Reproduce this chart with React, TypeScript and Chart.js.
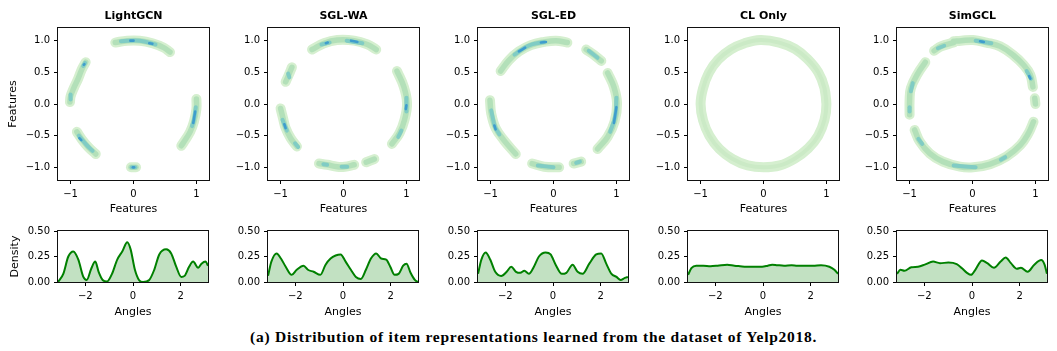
import React, { useEffect, useRef } from "react";
import { Chart, registerables } from "chart.js";

Chart.register(...registerables);

type Pt = [number, number];

// ---------------- labels & ticks ----------------
const modelNames = ["LightGCN", "SGL-WA", "SGL-ED", "CL Only", "SimGCL"];
const featureYTicks = [-1, -0.5, 0, 0.5, 1];
const featureXTicks = [-1, 0, 1];
const densityTicks = [0, 0.25, 0.5];
const angleTicks = [-2, 0, 2];
const captionText = "(a) Distribution of item representations learned from the dataset of Yelp2018.";

// ---------------- 2D feature distributions (ridges of the KDE bands) ----------------
const lightgcnArcs: Pt[][] = [
  [[-0.29, 0.97], [-0.1, 1.0], [0.1, 1.0], [0.3, 0.96], [0.48, 0.89], [0.58, 0.82]],
  [[-0.76, 0.66], [-0.82, 0.55], [-0.88, 0.4], [-0.95, 0.25], [-1.0, 0.12], [-1.01, 0.03]],
  [[-0.9, -0.44], [-0.82, -0.56], [-0.72, -0.68], [-0.6, -0.79]],
  [[-0.04, -1.0], [0.04, -1.0]],
  [[1.0, 0.08], [1.0, -0.08], [0.96, -0.28], [0.9, -0.44], [0.8, -0.6], [0.76, -0.66]],
];
const lightgcnCores: Pt[][] = [
  [[-0.2, 0.99], [0.1, 1.0], [0.35, 0.94]],
  [[-0.8, 0.6], [-0.77, 0.65]],
  [[-1.0, 0.15], [-1.0, 0.07]],
  [[-0.87, -0.5], [-0.75, -0.64], [-0.65, -0.74]],
  [[-0.03, -1.0], [0.03, -1.0]],
  [[0.99, -0.05], [0.96, -0.25], [0.93, -0.35]],
];
const lightgcnPeaks: Pt[][] = [
  [[-0.05, 1.0], [0.0, 1.0]],
  [[0.25, 0.96], [0.3, 0.95]],
  [[-0.79, 0.62], [-0.78, 0.63]],
  [[-0.86, -0.54], [-0.83, -0.57]],
  [[-0.01, -1.0], [0.01, -1.0]],
  [[0.98, -0.12], [0.95, -0.3]],
];

const sglwaArcs: Pt[][] = [
  [[-0.5, 0.86], [-0.31, 0.96], [-0.1, 1.01], [0.17, 1.0], [0.38, 0.94], [0.52, 0.86]],
  [[-0.82, 0.58], [-0.87, 0.46], [-0.92, 0.35]],
  [[-1.0, -0.07], [-0.96, -0.23], [-0.92, -0.38], [-0.84, -0.54], [-0.74, -0.67]],
  [[-0.39, -0.94], [-0.26, -0.96], [-0.1, -0.99], [0.02, -0.99], [0.17, -0.96]],
  [[0.36, -0.92], [0.49, -0.87]],
  [[0.85, 0.52], [0.96, 0.27], [1.01, 0.01], [0.97, -0.25], [0.89, -0.46], [0.77, -0.63]],
];
const sglwaCores: Pt[][] = [
  [[-0.35, 0.94], [-0.22, 0.97]],
  [[0.05, 1.0], [0.3, 0.96]],
  [[-0.88, 0.48], [-0.86, 0.42]],
  [[-0.97, -0.25], [-0.9, -0.42]],
  [[-0.77, -0.62], [-0.72, -0.68]],
  [[-0.32, -0.95], [-0.26, -0.96]],
  [[-0.03, -0.99], [0.06, -0.99]],
  [[1.0, 0.1], [1.0, -0.12]],
  [[0.92, -0.42], [0.87, -0.52]],
];
const sglwaPeaks: Pt[][] = [
  [[-0.28, 0.96], [-0.25, 0.97]],
  [[0.12, 1.0], [0.22, 0.98]],
  [[-0.94, -0.32], [-0.92, -0.38]],
  [[1.0, -0.02], [0.99, -0.08]],
];

const sgledArcs: Pt[][] = [
  [[-0.84, 0.52], [-0.71, 0.69], [-0.55, 0.83], [-0.36, 0.93], [-0.15, 0.98], [0.04, 1.0], [0.22, 0.97]],
  [[0.52, 0.86], [0.65, 0.77], [0.76, 0.68]],
  [[0.86, 0.49], [0.96, 0.27], [1.01, 0.01], [0.97, -0.28], [0.86, -0.52], [0.7, -0.71]],
  [[-1.01, 0.06], [-0.99, -0.15], [-0.92, -0.38], [-0.79, -0.57], [-0.6, -0.79]],
  [[-0.34, -0.94], [-0.15, -0.99], [0.09, -1.0]],
  [[0.32, -0.94], [0.44, -0.91]],
];
const sgledCores: Pt[][] = [
  [[-0.62, 0.78], [-0.4, 0.92], [-0.15, 0.98]],
  [[0.56, 0.84], [0.7, 0.73]],
  [[1.0, 0.1], [0.98, -0.2], [0.9, -0.44]],
  [[-0.99, -0.1], [-0.93, -0.36], [-0.86, -0.48]],
  [[-0.25, -0.97], [0.0, -1.0]],
  [[0.36, -0.93], [0.42, -0.91]],
];
const sgledPeaks: Pt[][] = [
  [[-0.55, 0.83], [-0.45, 0.89]],
  [[-0.2, 0.97], [-0.12, 0.98]],
  [[1.0, -0.05], [0.96, -0.3]],
  [[-0.94, -0.34], [-0.92, -0.4]],
];

const clonlyArcs: Pt[][] = [
  [[1.0, 0.0], [0.97, 0.25], [0.87, 0.5], [0.7, 0.71], [0.5, 0.87], [0.25, 0.97], [-0.05, 1.01],
   [-0.3, 0.96], [-0.52, 0.86], [-0.72, 0.7], [-0.87, 0.49], [-0.96, 0.25], [-1.0, 0.0],
   [-0.96, -0.26], [-0.86, -0.5], [-0.7, -0.71], [-0.49, -0.87], [-0.25, -0.97], [0.0, -1.0],
   [0.26, -0.97], [0.5, -0.86], [0.71, -0.7], [0.87, -0.5], [0.97, -0.25], [1.0, 0.0], [0.97, 0.25]],
];
const clonlyCores: Pt[][] = [];
const clonlyPeaks: Pt[][] = [];

const simgclArcs: Pt[][] = [
  [[-0.61, 0.84], [-0.5, 0.91], [-0.3, 0.97]],
  [[-0.3, 0.99], [-0.18, 1.0], [0.01, 1.01], [0.22, 0.97], [0.44, 0.91], [0.65, 0.77], [0.81, 0.62], [0.92, 0.46], [0.96, 0.27]],
  [[0.99, 0.09], [1.0, 0.0]],
  [[-0.75, 0.66], [-0.87, 0.48], [-0.98, 0.25], [-1.0, 0.06], [-1.0, -0.17]],
  [[-0.92, -0.41], [-0.84, -0.59], [-0.68, -0.78], [-0.47, -0.91], [-0.2, -0.99], [0.01, -1.0],
   [0.28, -0.95], [0.54, -0.83], [0.76, -0.65], [0.89, -0.46], [0.97, -0.28]],
];
const simgclCores: Pt[][] = [
  [[-0.55, 0.88], [-0.45, 0.92]],
  [[0.05, 1.0], [0.3, 0.96]],
  [[0.86, 0.52], [0.93, 0.4]],
  [[-0.95, 0.33], [-0.98, 0.2]],
  [[-1.0, -0.05], [-1.0, -0.12]],
  [[-0.86, -0.55], [-0.8, -0.63]],
  [[-0.3, -0.97], [0.05, -1.0]],
  [[0.45, -0.88], [0.52, -0.84]],
];
const simgclPeaks: Pt[][] = [
  [[0.12, 0.99], [0.18, 0.98]],
  [[0.9, 0.44], [0.92, 0.4]],
];

// ---------------- angle densities ----------------
const lightgcnAngles = [-3.14, -2.92, -2.71, -2.5, -2.29, -2.08, -1.94, -1.75, -1.58, -1.44, -1.27, -1.09, -0.88, -0.66, -0.45, -0.24, -0.1, 0.08, 0.25, 0.42, 0.68, 0.89, 1.1, 1.39, 1.6, 1.81, 2.02, 2.16, 2.35, 2.52, 2.73, 2.87, 3.04, 3.14];
const lightgcnDensity = [0.0, 0.08, 0.25, 0.3, 0.22, 0.05, 0.02, 0.13, 0.2, 0.1, 0.02, 0.005, 0.08, 0.22, 0.3, 0.39, 0.32, 0.12, 0.02, 0.0, 0.02, 0.12, 0.27, 0.32, 0.28, 0.15, 0.05, 0.06, 0.15, 0.2, 0.14, 0.18, 0.2, 0.16];

const sglwaAngles = [-3.14, -3.0, -2.78, -2.6, -2.4, -2.15, -1.94, -1.65, -1.47, -1.23, -0.95, -0.73, -0.52, -0.31, -0.1, 0.11, 0.33, 0.54, 0.75, 0.96, 1.17, 1.39, 1.6, 1.81, 1.98, 2.16, 2.33, 2.52, 2.66, 2.83, 3.01, 3.14];
const sglwaDensity = [0.06, 0.2, 0.28, 0.23, 0.15, 0.07, 0.12, 0.16, 0.12, 0.1, 0.07, 0.17, 0.23, 0.26, 0.27, 0.2, 0.12, 0.05, 0.03, 0.12, 0.23, 0.28, 0.23, 0.22, 0.15, 0.07, 0.08, 0.16, 0.18, 0.09, 0.02, 0.0];

const sgledAngles = [-3.14, -3.0, -2.82, -2.63, -2.42, -2.17, -1.94, -1.75, -1.55, -1.37, -1.2, -1.01, -0.8, -0.59, -0.31, -0.1, 0.11, 0.37, 0.56, 0.82, 1.03, 1.24, 1.52, 1.81, 2.02, 2.23, 2.45, 2.66, 2.83, 3.01, 3.14];
const sgledDensity = [0.08, 0.22, 0.29, 0.22, 0.1, 0.06, 0.1, 0.15, 0.1, 0.09, 0.11, 0.08, 0.15, 0.25, 0.29, 0.27, 0.17, 0.08, 0.09, 0.17, 0.1, 0.08, 0.18, 0.27, 0.28, 0.18, 0.08, 0.05, 0.02, 0.04, 0.05];

const clonlyAngles = [-3.14, -3.0, -2.8, -2.5, -2.2, -1.9, -1.5, -1.2, -0.96, -0.7, -0.4, -0.04, 0.2, 0.38, 0.6, 0.88, 1.2, 1.44, 1.8, 2.1, 2.43, 2.78, 2.99, 3.14];
const clonlyDensity = [0.07, 0.135, 0.16, 0.16, 0.155, 0.16, 0.17, 0.16, 0.155, 0.15, 0.15, 0.15, 0.16, 0.17, 0.165, 0.16, 0.165, 0.16, 0.16, 0.16, 0.165, 0.15, 0.12, 0.08];

const simgclAngles = [-3.14, -3.0, -2.83, -2.54, -2.26, -1.98, -1.63, -1.34, -0.99, -0.64, -0.42, -0.21, -0.04, 0.14, 0.42, 0.64, 0.92, 1.2, 1.41, 1.63, 1.88, 2.05, 2.33, 2.61, 2.9, 3.04, 3.14];
const simgclDensity = [0.08, 0.12, 0.11, 0.145, 0.15, 0.17, 0.2, 0.185, 0.19, 0.175, 0.135, 0.09, 0.07, 0.12, 0.21, 0.185, 0.14, 0.2, 0.24, 0.185, 0.13, 0.14, 0.1, 0.17, 0.215, 0.17, 0.08];

const allArcs = [lightgcnArcs, sglwaArcs, sgledArcs, clonlyArcs, simgclArcs];
const allCores = [lightgcnCores, sglwaCores, sgledCores, clonlyCores, simgclCores];
const allPeaks = [lightgcnPeaks, sglwaPeaks, sgledPeaks, clonlyPeaks, simgclPeaks];
const allAngles = [lightgcnAngles, sglwaAngles, sgledAngles, clonlyAngles, simgclAngles];
const allDensity = [lightgcnDensity, sglwaDensity, sgledDensity, clonlyDensity, simgclDensity];

// ---------------- layout ----------------
const BOX_LEFTS = [58, 268, 478, 688, 897];
const AXIS_W = 58;
const FONT = "DejaVu Sans";
const minus = (s: string) => s.replace("-", "\u2212");

const framePlugin = {
  id: "frame",
  afterDraw(chart: any) {
    const { ctx, chartArea: a } = chart;
    ctx.save();
    ctx.strokeStyle = "#111";
    ctx.lineWidth = 1;
    ctx.strokeRect(Math.round(a.left) - 0.5, Math.round(a.top) - 0.5, Math.round(a.right - a.left) + 1, Math.round(a.bottom - a.top) + 1);
    ctx.restore();
  },
};

function makeAxis(opts: {
  horizontal: boolean; min: number; max: number; ticks: number[]; fmt: (v: number) => string;
  size: number; tickPad: number; title?: string; titlePad?: number;
}) {
  return {
    type: "linear",
    min: opts.min,
    max: opts.max,
    afterBuildTicks: (s: any) => { s.ticks = opts.ticks.map((v) => ({ value: v })); },
    afterFit: (s: any) => { if (opts.horizontal) s.height = opts.size; else s.width = opts.size; },
    ticks: {
      callback: (v: any) => opts.fmt(Number(v)),
      font: { family: FONT, size: 10 },
      color: "#000",
      padding: opts.tickPad,
      maxRotation: 0,
      autoSkip: false,
    },
    grid: { drawOnChartArea: false, drawTicks: true, tickLength: 4, tickColor: "#000", color: "#000", lineWidth: 1 },
    border: { display: false },
    title: {
      display: !!opts.title,
      text: opts.title || "",
      font: { family: FONT, size: 11 },
      color: "#000",
      padding: { top: opts.titlePad || 0, bottom: opts.titlePad || 0 },
    },
  };
}

function topConfig(i: number): any {
  const datasets: any[] = [];
  const layer = (lines: Pt[][], color: string, w: number, order: number) => {
    lines.forEach((l) =>
      datasets.push({
        data: l.map(([x, y]) => ({ x, y })),
        borderColor: color,
        borderWidth: w,
        order,
        tension: 0.4,
        pointRadius: 0,
        fill: false,
        borderCapStyle: "round",
        borderJoinStyle: "round",
      })
    );
  };
  const isCL = i === 3;
  layer(allArcs[i], "#d5efcf", 10, 4);
  layer(allArcs[i], isCL ? "#cbeac6" : "#b3e0b9", isCL ? 4 : 5.5, 3);
  layer(allCores[i], "#80ccc4", 4, 2);
  layer(allPeaks[i], "#3f9dcd", 2.6, 1);
  return {
    type: "line",
    data: { datasets },
    plugins: [framePlugin],
    options: {
      animation: false,
      responsive: false,
      events: [],
      layout: { padding: { left: 0, right: 1, top: 0, bottom: 0 } },
      plugins: {
        legend: { display: false },
        tooltip: { enabled: false },
        title: {
          display: true,
          text: modelNames[i],
          fullSize: false,
          color: "#000",
          font: { family: FONT, size: 11, weight: "bold" },
          padding: { top: 9.4, bottom: 5.4 },
        },
      },
      scales: {
        x: makeAxis({ horizontal: true, min: -1.2, max: 1.2, ticks: featureXTicks, fmt: (v) => minus(String(v)), size: 40, tickPad: 4, title: "Features", titlePad: 4 }),
        y: makeAxis({ horizontal: false, min: -1.2, max: 1.2, ticks: featureYTicks, fmt: (v) => minus(v.toFixed(1)), size: AXIS_W, tickPad: 4, title: i === 0 ? "Features" : undefined, titlePad: 6.4 }),
      },
    },
  };
}

function bottomConfig(i: number): any {
  return {
    type: "line",
    data: {
      datasets: [
        {
          data: allAngles[i].map((a, k) => ({ x: a, y: allDensity[i][k] })),
          borderColor: "#008000",
          backgroundColor: "rgba(0,128,0,0.24)",
          borderWidth: 2,
          fill: "origin",
          pointRadius: 0,
          cubicInterpolationMode: "monotone",
        },
      ],
    },
    plugins: [framePlugin],
    options: {
      animation: false,
      responsive: false,
      events: [],
      layout: { padding: { left: 0, right: 2, top: 11, bottom: 0 } },
      plugins: { legend: { display: false }, tooltip: { enabled: false } },
      scales: {
        x: makeAxis({ horizontal: true, min: -Math.PI, max: Math.PI, ticks: angleTicks, fmt: (v) => minus(String(v)), size: 38, tickPad: 4.4, title: "Angles", titlePad: 1.7 }),
        y: makeAxis({ horizontal: false, min: 0, max: 0.5, ticks: densityTicks, fmt: (v) => v.toFixed(2), size: AXIS_W, tickPad: 4, title: i === 0 ? "Density" : undefined, titlePad: 8.4 }),
      },
    },
  };
}

function ChartCanvas(props: { left: number; top: number; width: number; height: number; make: () => any }) {
  const ref = useRef<HTMLCanvasElement>(null);
  useEffect(() => {
    const chart = new Chart(ref.current as HTMLCanvasElement, props.make());
    return () => chart.destroy();
  }, []);
  return (
    <canvas
      ref={ref}
      width={props.width}
      height={props.height}
      style={{ position: "absolute", left: props.left, top: props.top, width: props.width, height: props.height }}
    />
  );
}

export default function App() {
  return (
    <div style={{ position: "absolute", left: 0, top: 0, width: 1057, height: 351, background: "#fff", overflow: "hidden" }}>
      {modelNames.map((_, i) => (
        <ChartCanvas key={"t" + i} left={BOX_LEFTS[i] - AXIS_W} top={0} width={210} height={220} make={() => topConfig(i)} />
      ))}
      {modelNames.map((_, i) => (
        <ChartCanvas key={"b" + i} left={BOX_LEFTS[i] - AXIS_W} top={220} width={210} height={100} make={() => bottomConfig(i)} />
      ))}
      <div
        style={{
          position: "absolute",
          left: 250,
          top: 328,
          whiteSpace: "nowrap",
          fontFamily: "'Liberation Serif', serif",
          fontWeight: "bold",
          fontSize: 15.5,
          letterSpacing: 0.75,
          lineHeight: "18px",
          color: "#000",
        }}
      >
        {captionText}
      </div>
    </div>
  );
}
